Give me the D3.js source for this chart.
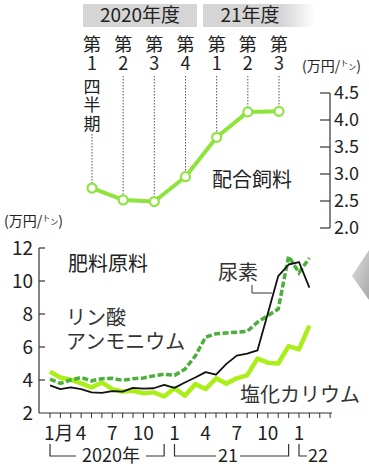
<!DOCTYPE html>
<html>
<head>
<meta charset="utf-8">
<script src="https://cdn.jsdelivr.net/npm/d3@7/dist/d3.min.js"></script>
<style>
  html, body { margin: 0; padding: 0; background: #fff; }
  svg { display: block; font-family: "Noto Sans CJK JP", "Noto Sans", sans-serif; }
  .vert { writing-mode: vertical-rl; text-orientation: upright; }
</style>
</head>
<body>
<svg id="chart" width="369" height="468"></svg>
<script>
// ---- Compound feed price, quarterly (万円/トン)
const feedYears = ["2020年度", "21年度"];
const feedQuarters = ["1", "2", "3", "4", "1", "2", "3"];
const feedPrice = [2.74, 2.52, 2.49, 2.95, 3.68, 4.15, 4.16];
const feedTicks = [2.0, 2.5, 3.0, 3.5, 4.0, 4.5];

// ---- Fertilizer raw materials, monthly Jan 2020 – Feb 2022 (万円/トン)
const urea = [3.68, 3.45, 3.55, 3.45, 3.25, 3.22, 3.33, 3.30, 3.52, 3.48, 3.50, 3.70,
              3.52, 3.85, 4.15, 4.48, 4.32, 4.98, 5.48, 5.60, 5.80, 8.05, 10.3, 11.0,
              11.15, 9.60];
const dap = [4.05, 3.80, 4.00, 4.15, 3.95, 4.08, 4.10, 3.98, 4.08, 4.12, 4.25, 4.35,
             4.28, 4.65, 5.45, 6.60, 6.80, 6.85, 6.90, 6.95, 7.50, 7.90, 8.30, 11.5,
             10.5, 11.4];
const potash = [4.50, 4.15, 4.02, 3.80, 3.55, 3.85, 3.45, 3.30, 3.35, 3.20, 3.25, 3.00,
                3.50, 3.05, 3.75, 3.45, 4.10, 3.78, 4.10, 4.28, 5.30, 5.05, 5.00, 6.05,
                5.85, 7.30];
const monthTickIdx = [0, 3, 6, 9, 12, 15, 18, 21, 24];
const monthTickLabels = ["1", "4", "7", "10", "1", "4", "7", "10", "1"];
const yearLabels = ["2020年", "21", "22"];
const fertTicks = [2, 4, 6, 8, 10, 12];

const svg = d3.select("#chart");
const TEXT = "#222";

// unit mark with small "トン"
function unitLabel(x, y) {
  const t = svg.append("text").attr("x", x).attr("y", y)
    .attr("font-size", 14).attr("fill", TEXT);
  t.append("tspan").text("(万円/");
  t.append("tspan").attr("font-size", 8).attr("dy", -5).text("ト");
  t.append("tspan").attr("font-size", 8).attr("dy", 4).text("ン");
  t.append("tspan").attr("dy", 1).text(")");
}

// ================= Upper panel: compound feed =================
const qx = d3.scaleLinear().domain([0, 6]).range([92, 279]);
const fy = d3.scaleLinear().domain([2, 4.5]).range([228, 93]);

// fiscal-year header bands
const defs = svg.append("defs");
const grad = defs.append("linearGradient").attr("id", "fade");
grad.append("stop").attr("offset", "0.7").attr("stop-color", "#d5d5d5");
grad.append("stop").attr("offset", "1").attr("stop-color", "#ffffff");
const shard = defs.append("linearGradient").attr("id", "shard")
  .attr("x1", 0).attr("y1", 0).attr("x2", 1).attr("y2", 1);
shard.append("stop").attr("offset", "0").attr("stop-color", "#d8d8d8");
shard.append("stop").attr("offset", "1").attr("stop-color", "#9a9a9a");

svg.append("rect").attr("x", 83).attr("y", 4).attr("width", 114).attr("height", 23)
  .attr("fill", "#d5d5d5");
svg.append("rect").attr("x", 203).attr("y", 4).attr("width", 112).attr("height", 23)
  .attr("fill", "url(#fade)");
svg.append("text").attr("x", 140).attr("y", 22).attr("text-anchor", "middle")
  .attr("font-size", 19).attr("fill", TEXT).text(feedYears[0]);
svg.append("text").attr("x", 250).attr("y", 22).attr("text-anchor", "middle")
  .attr("font-size", 19).attr("fill", TEXT).text(feedYears[1]);

// quarter column labels (vertical writing) + dotted guides
feedQuarters.forEach((q, i) => {
  const x = qx(i);
  const t = svg.append("text").attr("class", "vert")
    .attr("x", x).attr("y", 35).attr("font-size", 18)
    .attr("letter-spacing", 1.5).attr("fill", TEXT);
  t.append("tspan").text("第" + q);
  if (i === 0) {
    t.append("tspan").attr("dy", 4).attr("font-size", 17).text("四半期");
  }
  const top = i === 0 ? 134 : 76;
  svg.append("line").attr("x1", x).attr("x2", x)
    .attr("y1", top).attr("y2", fy(feedPrice[i]) - 5)
    .attr("stroke", "#555").attr("stroke-width", 1).attr("stroke-dasharray", "1.5,1.5");
});

// right axis
const fAxisX = 330;
svg.append("line").attr("x1", fAxisX).attr("x2", fAxisX)
  .attr("y1", fy(4.5)).attr("y2", fy(2.0)).attr("stroke", "#333").attr("stroke-width", 1.2);
feedTicks.forEach(v => {
  svg.append("line").attr("x1", fAxisX - 10).attr("x2", fAxisX)
    .attr("y1", fy(v)).attr("y2", fy(v)).attr("stroke", "#333").attr("stroke-width", 1.2);
  svg.append("text").attr("x", fAxisX + 4).attr("y", fy(v)).attr("dy", "0.36em")
    .attr("font-size", 18).attr("fill", TEXT).text(v.toFixed(1));
});
unitLabel(302, 71);

// feed line with hollow markers
const feedLine = d3.line().x((d, i) => qx(i)).y(d => fy(d));
svg.append("path").datum(feedPrice).attr("d", feedLine)
  .attr("fill", "none").attr("stroke", "#8ee43c").attr("stroke-width", 4)
  .attr("stroke-linejoin", "round");
svg.selectAll("circle.feed").data(feedPrice).enter().append("circle")
  .attr("class", "feed").attr("cx", (d, i) => qx(i)).attr("cy", d => fy(d)).attr("r", 4.5)
  .attr("fill", "#fff").attr("stroke", "#8ee43c").attr("stroke-width", 2.2);

svg.append("text").attr("x", 252).attr("y", 187).attr("text-anchor", "middle")
  .attr("font-size", 20).attr("fill", TEXT).text("配合飼料");

// ================= Lower panel: fertilizer raw materials =================
const mx = d3.scaleLinear().domain([0, 24]).range([50, 299]);
const by = d3.scaleLinear().domain([2, 12]).range([413, 248]);
const axisX = 39, baseY = 413;

unitLabel(4, 226);

// left axis
svg.append("line").attr("x1", axisX).attr("x2", axisX)
  .attr("y1", by(12)).attr("y2", baseY).attr("stroke", "#333").attr("stroke-width", 1.2);
fertTicks.forEach(v => {
  if (v > 2) {
    svg.append("line").attr("x1", axisX).attr("x2", axisX + 6)
      .attr("y1", by(v)).attr("y2", by(v)).attr("stroke", "#333").attr("stroke-width", 1.2);
  }
  svg.append("text").attr("x", 33).attr("y", by(v)).attr("dy", "0.36em")
    .attr("text-anchor", "end").attr("font-size", 19).attr("fill", TEXT).text(v);
});

// bottom axis with monthly ticks
svg.append("line").attr("x1", axisX).attr("x2", 332)
  .attr("y1", baseY).attr("y2", baseY).attr("stroke", "#333").attr("stroke-width", 1.2);
d3.range(0, 28).forEach(i => {
  svg.append("line").attr("x1", mx(i)).attr("x2", mx(i))
    .attr("y1", baseY).attr("y2", baseY + 5).attr("stroke", "#333").attr("stroke-width", 1);
});
monthTickIdx.forEach((m, k) => {
  const t = svg.append("text").attr("y", 440).attr("font-size", 19).attr("fill", TEXT);
  if (k === 0) {
    t.attr("x", mx(m) - 6).text(monthTickLabels[k] + "月");
  } else {
    t.attr("x", mx(m)).attr("text-anchor", "middle").text(monthTickLabels[k]);
  }
});

// year brackets
const brk = "#333";
const bY = 456, bTop = 444, labY = 462;
function bracket(d) {
  svg.append("path").attr("d", d).attr("fill", "none")
    .attr("stroke", brk).attr("stroke-width", 1.2);
}
bracket(`M${mx(0)},${bTop}V${bY}H76`);
svg.append("text").attr("x", 111).attr("y", labY).attr("text-anchor", "middle")
  .attr("font-size", 18).attr("fill", TEXT).text(yearLabels[0]);
bracket(`M146,${bY}H${mx(11)}V${bTop}`);
bracket(`M${mx(12)},${bTop}V${bY}H216`);
svg.append("text").attr("x", 228).attr("y", labY).attr("text-anchor", "middle")
  .attr("font-size", 18).attr("fill", TEXT).text(yearLabels[1]);
bracket(`M240,${bY}H${mx(23)}V${bTop}`);
bracket(`M${mx(24)},${bTop}V${bY}H307`);
svg.append("text").attr("x", 308).attr("y", labY)
  .attr("font-size", 18).attr("fill", TEXT).text(yearLabels[2]);

// series
const mLine = d3.line().x((d, i) => mx(i)).y(d => by(d));
svg.append("path").datum(potash).attr("d", mLine)
  .attr("fill", "none").attr("stroke", "#aaee1a").attr("stroke-width", 4.5)
  .attr("stroke-linejoin", "round");
svg.append("path").datum(dap).attr("d", mLine)
  .attr("fill", "none").attr("stroke", "#4caf3a").attr("stroke-width", 3.5)
  .attr("stroke-dasharray", "6,2.5");
svg.append("path").datum(urea).attr("d", mLine)
  .attr("fill", "none").attr("stroke", "#111").attr("stroke-width", 1.8)
  .attr("stroke-linejoin", "round");

// series labels
svg.append("text").attr("x", 68).attr("y", 271).attr("font-size", 20).attr("fill", TEXT).text("肥料原料");
svg.append("text").attr("x", 66).attr("y", 325).attr("font-size", 20).attr("fill", "#333").text("リン酸");
svg.append("text").attr("x", 66).attr("y", 349).attr("font-size", 20).attr("fill", "#333").text("アンモニウム");
svg.append("text").attr("x", 218).attr("y", 280).attr("font-size", 20).attr("fill", "#333").text("尿素");
svg.append("path").attr("d", "M252,285V293H272").attr("fill", "none").attr("stroke", "#333").attr("stroke-width", 1);
svg.append("text").attr("x", 240).attr("y", 402).attr("font-size", 20).attr("fill", "#333").text("塩化カリウム");

// grey shard at the right edge
svg.append("path").attr("d", "M369,250L352,276L369,300Z").attr("fill", "url(#shard)").attr("opacity", 0.85);
</script>
</body>
</html>
